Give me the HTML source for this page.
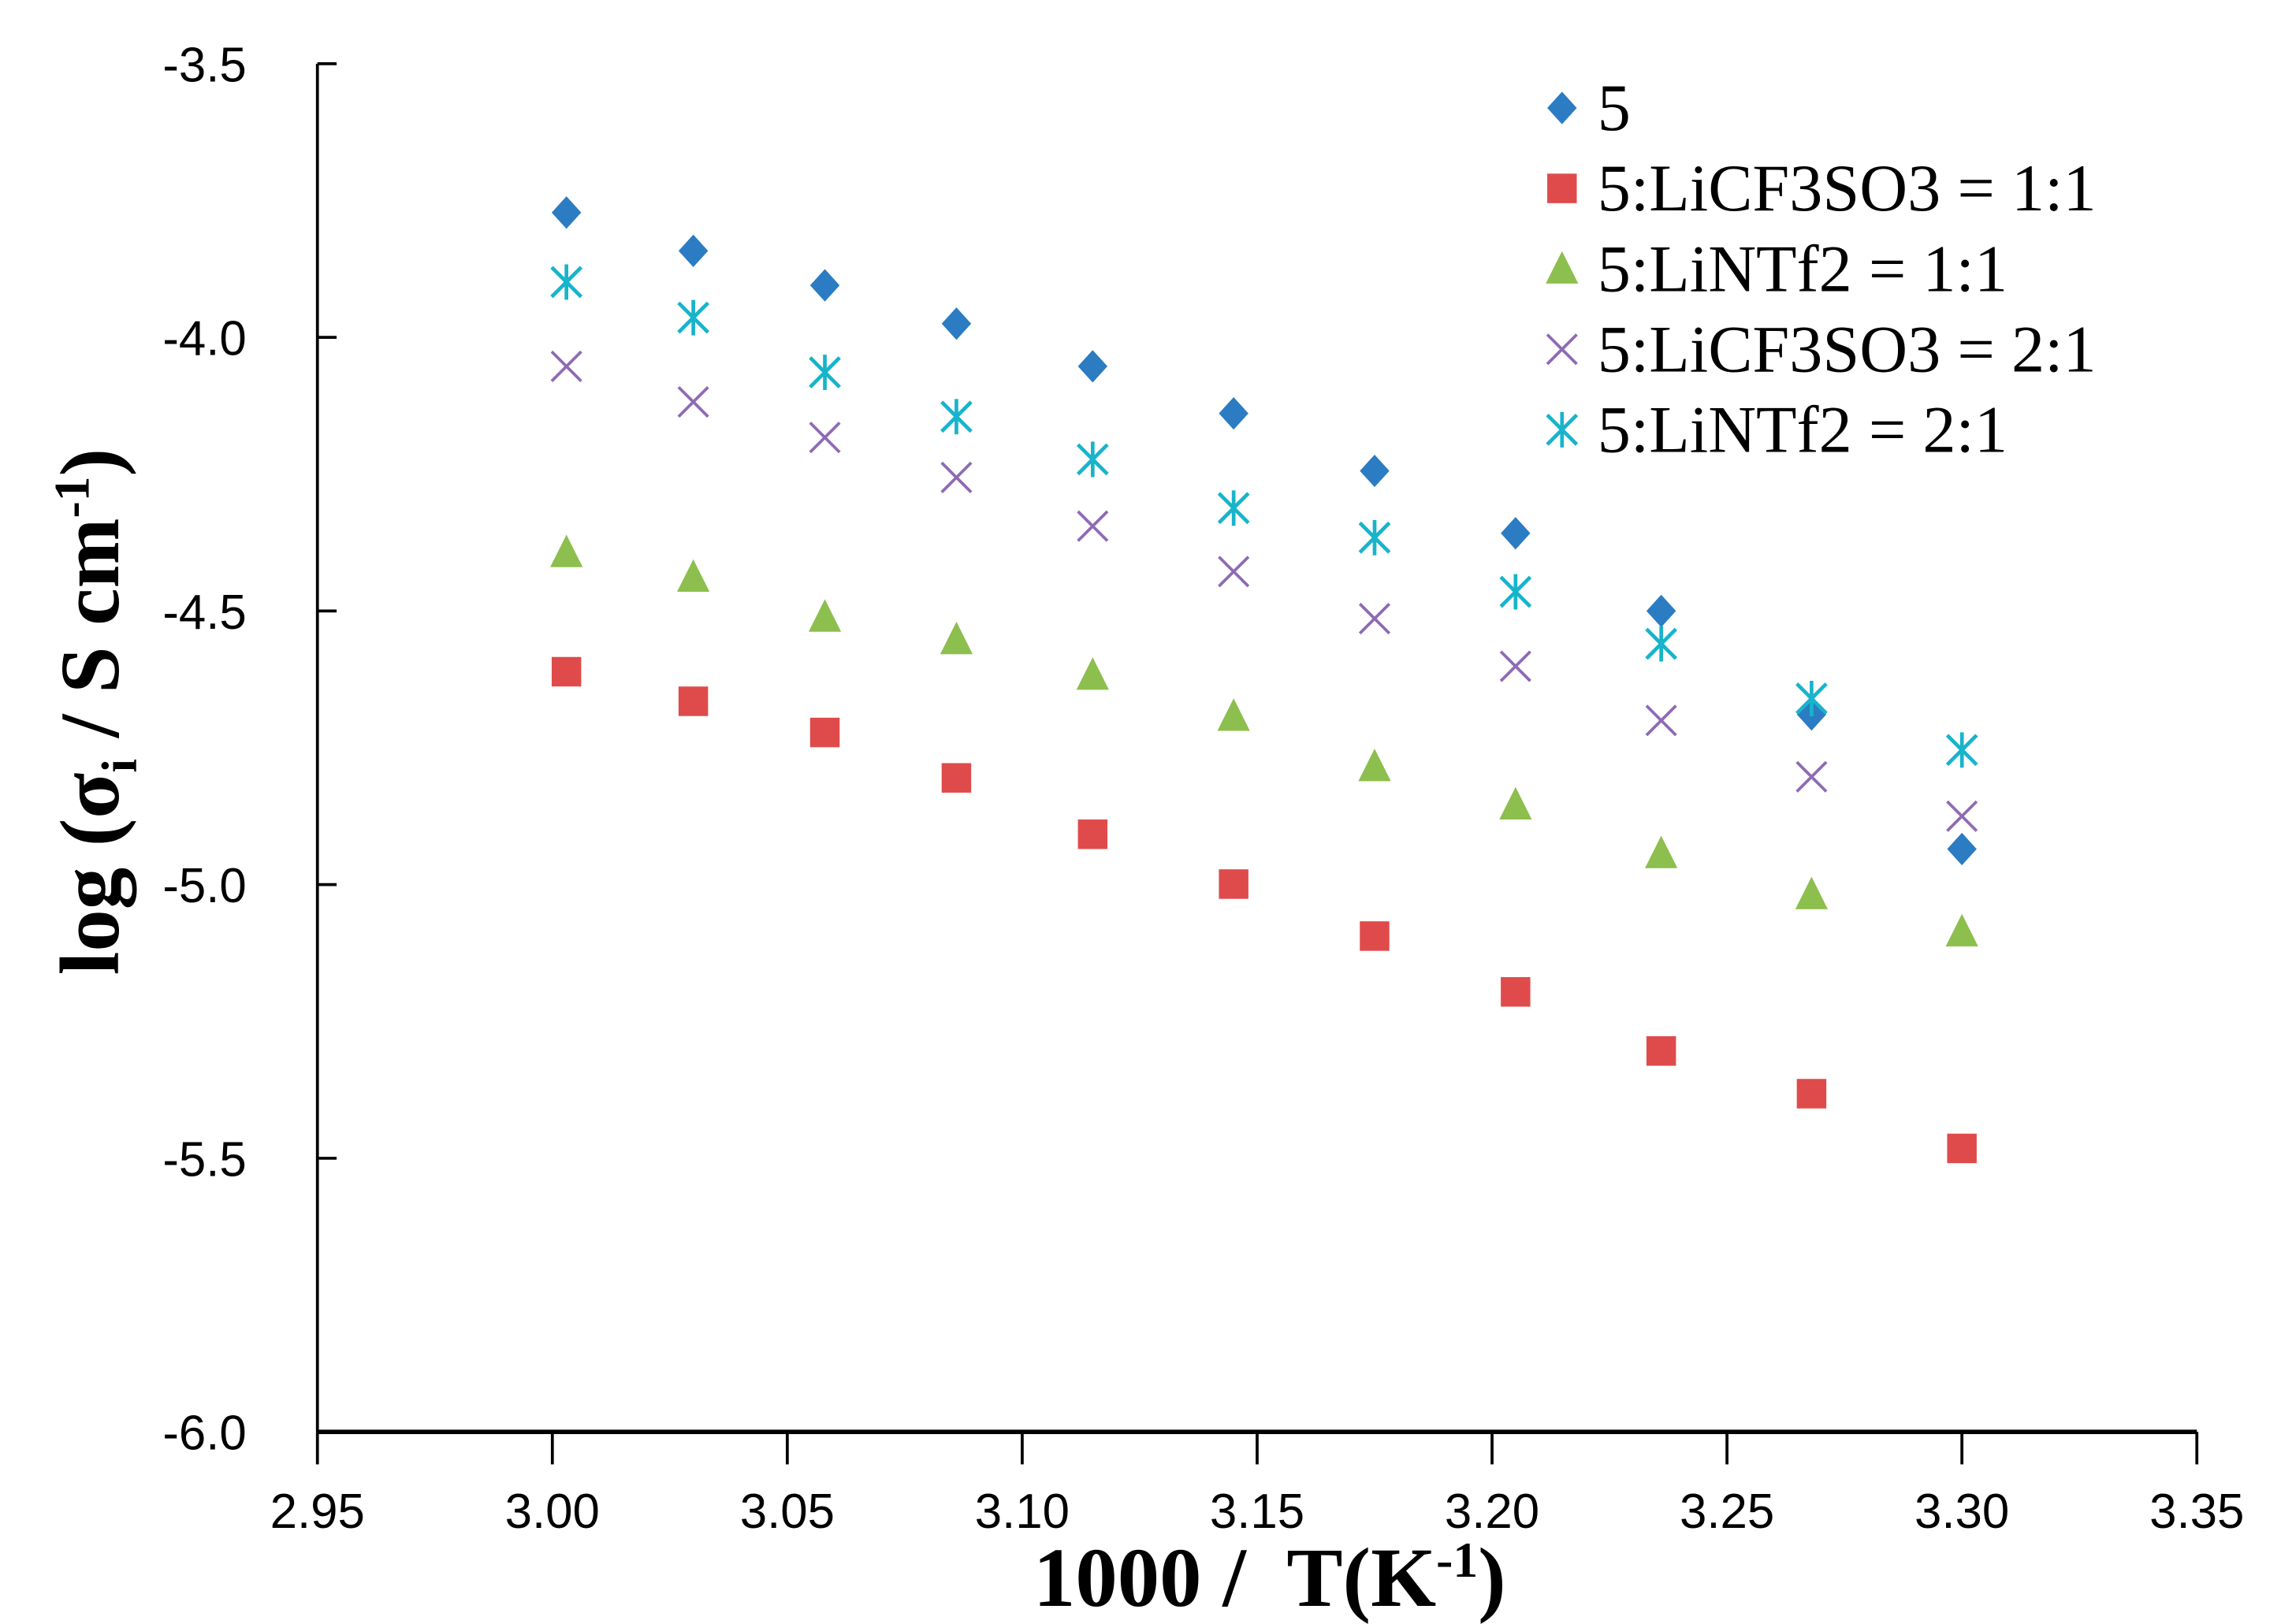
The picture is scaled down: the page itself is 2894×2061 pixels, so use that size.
<!DOCTYPE html>
<html><head><meta charset="utf-8"><style>html,body{margin:0;padding:0;background:#fff}svg{display:block}</style></head>
<body>
<svg id="chart" width="2894" height="2061" viewBox="0 0 1545 1100" xmlns="http://www.w3.org/2000/svg">
<rect width="1545" height="1100" fill="#fff"/>
<g id="axes"></g><g id="marks"></g><g id="legend"></g>
</svg>
<script>
const xVals=[3.003,3.030,3.058,3.086,3.115,3.145,3.175,3.205,3.236,3.268,3.300];
const s5=[-3.772,-3.842,-3.905,-3.975,-4.053,-4.139,-4.244,-4.358,-4.500,-4.689,-4.935];
const sCF11=[-4.611,-4.665,-4.722,-4.805,-4.908,-4.999,-5.094,-5.196,-5.304,-5.382,-5.482];
const sNT11=[-4.393,-4.438,-4.511,-4.552,-4.617,-4.692,-4.784,-4.854,-4.943,-5.018,-5.086];
const sCF21=[-4.053,-4.118,-4.183,-4.256,-4.345,-4.428,-4.514,-4.601,-4.700,-4.803,-4.875];
const sNT21=[-3.899,-3.964,-4.064,-4.145,-4.223,-4.312,-4.366,-4.465,-4.560,-4.660,-4.754];
const xTicks=["2.95","3.00","3.05","3.10","3.15","3.20","3.25","3.30","3.35"];
const yTicks=["-3.5","-4.0","-4.5","-5.0","-5.5","-6.0"];
const seriesNames=["5","5:LiCF3SO3 = 1:1","5:LiNTf2 = 1:1","5:LiCF3SO3 = 2:1","5:LiNTf2 = 2:1"];

const NS="http://www.w3.org/2000/svg";
const X0=215,X1=1488,Y0=43,Y1=970;
const xs=v=>X0+(v-2.95)/0.4*(X1-X0);
const ys=v=>Y0+(-3.5-v)/2.5*(Y1-Y0);
function mk(tag,attrs,parent,text){const e=document.createElementNS(NS,tag);for(const k in attrs)e.setAttribute(k,attrs[k]);if(text!==undefined)e.textContent=text;parent.appendChild(e);return e;}
const axes=document.getElementById('axes'),marks=document.getElementById('marks'),legend=document.getElementById('legend');
const tickFont='"Liberation Sans Narrow","Liberation Sans",sans-serif';

let e=mk('line',{x1:X0,y1:Y0,x2:X0,y2:Y1,stroke:'#000','stroke-width':2},axes);

e=mk('line',{x1:X0,y1:Y1,x2:X1,y2:Y1,stroke:'#000','stroke-width':3},axes);

yTicks.forEach(t=>{const y=ys(parseFloat(t));
 let l=mk('line',{x1:X0,y1:y,x2:X0+13,y2:y,stroke:'#000','stroke-width':2},axes);
 
 let tx=mk('text',{x:167,y:y+12,'text-anchor':'end','font-family':tickFont,'font-size':33,fill:'#000'},axes,t);
 });
xTicks.forEach(t=>{const x=xs(parseFloat(t));
 let l=mk('line',{x1:x,y1:Y1,x2:x,y2:Y1+22,stroke:'#000','stroke-width':2},axes);
 
 let tx=mk('text',{x:x,y:1035,'text-anchor':'middle','font-family':tickFont,'font-size':33,fill:'#000'},axes,t);
 });
let xt=mk('text',{x:860,y:1088,'text-anchor':'middle','font-family':'"Liberation Serif",serif','font-size':57,'font-weight':'bold',fill:'#000'},axes);
xt.innerHTML='1000 /&#160; T(K<tspan dy="-20" font-size="34">-1</tspan><tspan dy="20">)</tspan>';

let yt=mk('text',{x:0,y:0,'text-anchor':'middle','font-family':'"Liberation Serif",serif','font-size':57,'font-weight':'bold',fill:'#000',transform:'translate(80,482) rotate(-90)'},axes);
yt.innerHTML='log (σ<tspan dy="12" font-size="34">i</tspan><tspan dy="-12"> / S cm</tspan><tspan dy="-20" font-size="34">-1</tspan><tspan dy="20">)</tspan>';


const colors=['#2B7CC2','#DF4B4B','#8CBF4D','#8E6AB4','#17B4CB'];
function drawMarker(kind,x,y,parent){
 const c=colors[kind];let g=mk('g',{},parent);
 if(kind===0)mk('polygon',{points:`${x},${y-11} ${x+10},${y} ${x},${y+11} ${x-10},${y}`,fill:c},g);
 else if(kind===1)mk('rect',{x:x-10,y:y-10,width:20,height:20,fill:c},g);
 else if(kind===2)mk('polygon',{points:`${x},${y-12} ${x+11},${y+10} ${x-11},${y+10}`,fill:c},g);
 else if(kind===3){mk('path',{d:`M${x-10},${y-10}L${x+10},${y+10}M${x-10},${y+10}L${x+10},${y-10}`,stroke:c,'stroke-width':2,fill:'none'},g);}
 else {mk('path',{d:`M${x-10},${y-10}L${x+10},${y+10}M${x-10},${y+10}L${x+10},${y-10}M${x},${y-12}L${x},${y+12}`,stroke:c,'stroke-width':2.5,fill:'none'},g);}
 return g;}
const allSeries=[s5,sCF11,sNT11,sCF21,sNT21];
const sNames=['series-5','series-licf3so3-1-1','series-lintf2-1-1','series-licf3so3-2-1','series-lintf2-2-1'];
allSeries.forEach((s,k)=>{const sg=mk('g',{},marks);
 
 s.forEach((v,i)=>{const m=drawMarker(k,xs(xVals[i]),ys(v),sg);
  });});
seriesNames.forEach((n,k)=>{const y=73+k*54.5;const lg=mk('g',{},legend);
 
 drawMarker(k,1058,y,lg);
 mk('text',{x:1082,y:y+15,'font-family':'"Liberation Serif",serif','font-size':45,fill:'#000'},lg,n);});
</script>
</body></html>
